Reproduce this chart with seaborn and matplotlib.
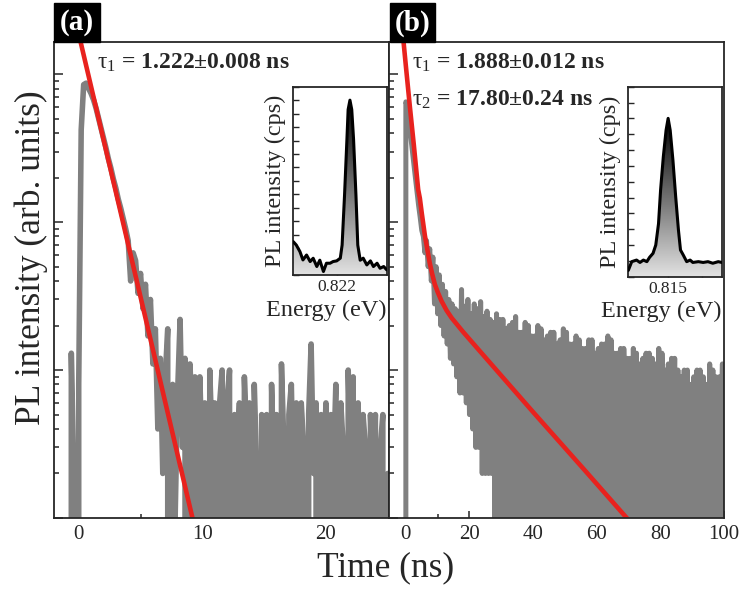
import numpy as np
import pandas as pd
import matplotlib
matplotlib.use("Agg")
import matplotlib.pyplot as plt
from matplotlib.ticker import MultipleLocator, LogLocator, NullFormatter, FixedLocator
from matplotlib.colors import LinearSegmentedColormap
from matplotlib.patches import Rectangle
import seaborn as sns

# ---------------- data ----------------
# panel (a): TRPL histogram, 0.2 ns bins starting at -2.0 ns
a_t0, a_dt = -2.0, 0.2
counts_a = [0, 0, 0, 0, 0, 0, 0, 13, 2, 0,
            8, 420, 850, 870, 800, 740, 670, 590, 505, 435,
            370, 318, 268, 232, 196, 170, 143, 124, 106, 90,
            75, 40, 62, 55, 33, 45, 26, 38, 17, 30,
            11, 19, 4, 12, 2, 9, 19, 0, 8, 1,
            7, 22, 3, 12, 0, 11, 4, 9, 0, 9,
            2, 6, 0, 10, 3, 6, 0, 6, 10, 1,
            6, 10, 0, 5, 2, 6, 0, 9, 3, 6,
            0, 8, 2, 0, 5, 3, 5, 0, 8, 2,
            5, 0, 11, 3, 0, 5, 8, 1, 6, 0,
            6, 3, 0, 5, 15, 2, 6, 0, 5, 2,
            6, 0, 5, 2, 8, 0, 6, 3, 0, 10,
            2, 9, 0, 6, 1, 5, 3, 0, 5, 2,
            5, 0, 3, 5, 0, 2]
fit_a_t = [-0.1, 9.4]
fit_a_v = [2030.0, 0.85]

# panel (b): TRPL histogram, 0.5 ns bins starting at -5.0 ns
b_t0, b_dt = -5.0, 0.5
counts_b = [0, 0, 0, 0, 0, 0, 0, 0, 0, 0,
            650, 600, 480, 390, 310, 250, 200, 160, 130, 108,
            88, 80, 62, 75, 50, 66, 40, 58, 28, 50,
            24, 44, 20, 38, 17, 34, 15, 30, 12, 28,
            11, 26, 9, 25, 7, 35, 7, 27, 6, 30,
            5, 24, 4, 28, 3, 26, 3, 29, 2, 23,
            2, 25, 2, 22, 2, 21, 1, 24, 0, 22,
            1, 22, 0, 19, 0, 20, 2, 21, 0, 23,
            0, 18, 1, 18, 0, 21, 0, 20, 2, 17,
            0, 17, 0, 20, 1, 19, 0, 16, 0, 17,
            2, 18, 0, 18, 0, 15, 1, 16, 0, 19,
            0, 18, 2, 15, 0, 15, 0, 17, 1, 16,
            0, 14, 0, 14, 2, 16, 0, 16, 0, 13,
            1, 14, 0, 15, 0, 15, 2, 17, 0, 16,
            0, 13, 1, 13, 0, 14, 0, 14, 2, 12,
            0, 12, 0, 14, 1, 13, 0, 11, 0, 12,
            2, 13, 0, 13, 0, 12, 1, 11, 0, 14,
            0, 13, 2, 10, 0, 11, 0, 12, 1, 12,
            0, 10, 0, 9, 2, 10, 0, 10, 0, 8,
            1, 9, 0, 10, 0, 10, 2, 9, 0, 8,
            0, 11, 1, 10, 0, 9, 0, 9, 2, 11,
            0, 10, 0, 8, 1, 8, 0, 10, 0, 9,
            2, 8, 0, 8, 0, 9, 1, 10, 0, 7,
            0, 7, 2, 10, 0, 9, 0, 8, 1, 8,
            0, 9, 0, 8, 2, 7, 0, 8, 0, 10,
            1, 11, 0, 13, 0, 12, 2, 7, 0, 8,
            0]
fit_b_t = [-1.5, -0.8, 0.0, 1.26, 2.5, 3.87, 4.4, 5.0, 6.0, 7.5, 8.2, 9.1, 10.0,
           11.2, 12.8, 14.4, 18.0, 24.8, 40.0, 56.0, 71.5]
fit_b_v = [2400, 1714, 1137, 603, 333, 166, 145, 115, 80.6, 53, 45.3, 38, 33.7,
           29.3, 25.3, 22.5, 18.1, 12.3, 5.2, 2.13, 0.89]

# insets: PL spectra
spec_a_E = [0.82128, 0.82133, 0.82139, 0.82144, 0.82150, 0.82156, 0.82161, 0.82167,
            0.82172, 0.82178, 0.82183, 0.82189, 0.82194, 0.82200, 0.82206, 0.82209,
            0.82213, 0.82217, 0.82219, 0.82222, 0.82225, 0.82228, 0.82232, 0.82235,
            0.82239, 0.82244, 0.82250, 0.82256, 0.82261, 0.82267, 0.82272, 0.82278,
            0.82283]
spec_a_I = [49.5, 44.5, 34.8, 22.4, 29.7, 20, 24.9, 12.6, 22, 5.2, 17.5, 17.5, 20, 21,
            25, 44.5, 118, 202, 246, 260, 246, 202, 118, 44.5, 22, 25, 15, 21, 12.6,
            17.5, 10, 12.6, 7.7]
spec_b_E = [0.81442, 0.81447, 0.81454, 0.81459, 0.81464, 0.81469, 0.81473, 0.81478,
            0.81482, 0.81486, 0.81489, 0.81493, 0.81497, 0.81500, 0.81503, 0.81507,
            0.81511, 0.81515, 0.81518, 0.81522, 0.81527, 0.81532, 0.81536, 0.81544,
            0.81551, 0.81558, 0.81565, 0.81573, 0.81578]
spec_b_I = [8, 19, 21, 18, 21, 19, 24.5, 29.5, 40, 67, 109.5, 151.6, 185, 200, 185,
            147, 101, 59, 33.7, 27.4, 19, 21, 18, 19, 18, 19, 17, 19, 18]

tau_a = r"$\mathrm{\tau}_\mathrm{1}$ = 1.222±0.008 ns"
tau_b1 = r"$\mathrm{\tau}_\mathrm{1}$ = 1.888±0.012 ns"
tau_b2 = r"$\mathrm{\tau}_\mathrm{2}$ = 17.80±0.24 ns"
panel_labels = ["(a)", "(b)"]
inset_ticks = [[0.822], [0.815]]
inset_ticklabels = [["0.822"], ["0.815"]]

# ---------------- style ----------------
sns.set_style("ticks")
plt.rcParams["font.family"] = ["Liberation Serif", "DejaVu Serif"]
plt.rcParams["mathtext.fontset"] = "custom"
plt.rcParams["mathtext.rm"] = "Liberation Serif"
plt.rcParams["mathtext.it"] = "Liberation Serif:italic"
plt.rcParams["mathtext.bf"] = "Liberation Serif:bold"
plt.rcParams["axes.linewidth"] = 1.3

GRAY = "#808080"
RED = "#e8221e"

fig = plt.figure(figsize=(7.43, 5.90), dpi=100)
W, H = 743.0, 590.0


def fbox(x0, y0, x1, y1):
    return [x0 / W, 1 - y1 / H, (x1 - x0) / W, (y1 - y0) / H]


axA = fig.add_axes(fbox(54, 42, 389, 518))
axB = fig.add_axes(fbox(389, 42, 724, 518))

dfA = pd.DataFrame({"t": a_t0 + a_dt * np.arange(len(counts_a)), "c": counts_a})
dfB = pd.DataFrame({"t": b_t0 + b_dt * np.arange(len(counts_b)), "c": counts_b})
fitA = pd.DataFrame({"t": fit_a_t, "c": fit_a_v})
fitB = pd.DataFrame({"t": fit_b_t, "c": fit_b_v})

for ax, df, fit, glw in [(axA, dfA, fitA, 4.0), (axB, dfB, fitB, 3.6)]:
    sns.lineplot(data=df, x="t", y="c", ax=ax, color=GRAY, lw=glw,
                 estimator=None, sort=False)
    sns.lineplot(data=fit, x="t", y="c", ax=ax, color=RED, lw=3.3,
                 estimator=None, sort=False)
    ax.set_yscale("log")
    ax.set_ylim(1, 1650)
    ax.yaxis.set_major_locator(LogLocator(base=10, numticks=10))
    ax.yaxis.set_minor_locator(LogLocator(base=10, subs=np.arange(2, 10), numticks=20))
    ax.yaxis.set_major_formatter(NullFormatter())
    ax.yaxis.set_minor_formatter(NullFormatter())
    ax.set_xlabel("")
    ax.set_ylabel("")
    ax.tick_params(axis="both", which="both", direction="in", top=False, right=False,
                   labelsize=15, width=1.1)
    ax.tick_params(axis="y", which="major", length=6.5)
    ax.tick_params(axis="y", which="minor", length=3.5)
    ax.tick_params(axis="x", which="major", length=5, pad=5)
    ax.tick_params(axis="x", which="minor", length=3)
    for s in ax.spines.values():
        s.set_linewidth(1.3)
        s.set_zorder(10)

axA.set_xlim(-2, 25.1)
axA.xaxis.set_major_locator(FixedLocator([0, 10, 20]))
axA.xaxis.set_minor_locator(FixedLocator([5, 15]))
axB.set_xlim(-5.3, 100)
axB.xaxis.set_major_locator(FixedLocator([0, 20, 40, 60, 80, 100]))
axB.xaxis.set_minor_locator(FixedLocator([10, 30, 50, 70, 90]))

# tau annotations
fig.text(97 / W, 1 - 68.5 / H, tau_a, fontsize=17, fontweight="bold", va="baseline")
fig.text(412 / W, 1 - 68.5 / H, tau_b1, fontsize=17, fontweight="bold", va="baseline")
fig.text(412 / W, 1 - 106 / H, tau_b2, fontsize=17, fontweight="bold", va="baseline")

# panel label boxes
for (x0, x1), lab in zip([(54, 100), (390, 435)], panel_labels):
    fig.patches.append(Rectangle((x0 / W, 1 - 42 / H), (x1 - x0) / W, 39 / H,
                                 transform=fig.transFigure, facecolor="black",
                                 edgecolor="black", zorder=5))
    fig.text((x0 + x1) / 2 / W, 1 - 23 / H, lab, color="white", fontsize=21,
             fontweight="bold", ha="center", va="center", zorder=6)

# axis labels
fig.text(386 / W, 1 - 568 / H, "Time (ns)", fontsize=25.5, ha="center", va="center")
fig.text(31 / W, 1 - 258 / H, "PL intensity (arb. units)", fontsize=25.5,
         rotation=90, ha="center", va="center")

# insets
cmap = LinearSegmentedColormap.from_list("g", ["#e2e2e2", "#000000"])
insets = [
    (fbox(293.3, 86.7, 386.7, 275), spec_a_E, spec_a_I, 280, 0),
    (fbox(628.3, 86.7, 721.7, 276.7), spec_b_E, spec_b_I, 240, 1),
]
for box, E, I, ymax, k in insets:
    ax = fig.add_axes(box)
    E = np.asarray(E)
    I = np.asarray(I)
    poly = ax.fill_between(E, I, 0, facecolor="none", edgecolor="none")
    path = poly.get_paths()[0]
    grad = np.linspace(0, 1, 256).reshape(-1, 1)
    im = ax.imshow(grad, cmap=cmap, aspect="auto", origin="lower",
                   extent=[E.min(), E.max(), 0, I.max()], zorder=1)
    im.set_clip_path(path, transform=ax.transData)
    sns.lineplot(x=E, y=I, ax=ax, color="black", lw=2.2, estimator=None,
                 sort=False, zorder=3)
    ax.set_xlim(E.min(), E.max())
    ax.set_ylim(0, ymax)
    ax.xaxis.set_major_locator(FixedLocator(inset_ticks[k]))
    ax.set_xticklabels(inset_ticklabels[k])
    if k == 1:
        ax.xaxis.set_minor_locator(FixedLocator([0.8155]))
    ax.yaxis.set_major_locator(MultipleLocator(20))
    ax.yaxis.set_major_formatter(NullFormatter())
    ax.tick_params(axis="both", which="both", direction="in", top=False, right=False,
                   length=4.5, width=1.0, labelsize=12.5, pad=3)
    ax.tick_params(axis="x", which="minor", length=4.5)
    ax.set_xlabel("Energy (eV)", fontsize=17.5, labelpad=3, loc="right")
    ax.set_ylabel("PL intensity (cps)", fontsize=17.5, labelpad=2)
    for s in ax.spines.values():
        s.set_linewidth(1.3)

fig.savefig("out.png", dpi=100)
